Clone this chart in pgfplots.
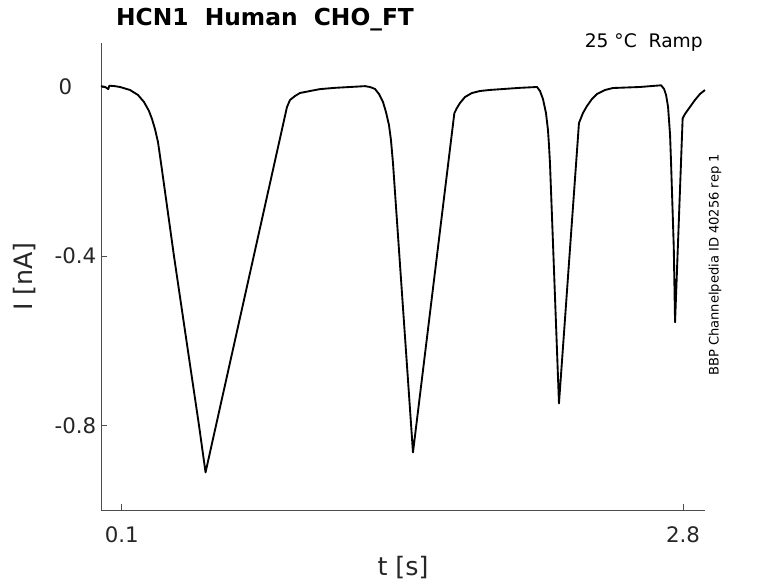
\documentclass[border=0pt]{standalone}
\usepackage{fontspec}
\setmainfont{DejaVu Sans}
\usepackage{pgfplots}
\pgfplotsset{compat=1.18}
\pgfplotstableread{
x y
0.000 0.002
0.020 0.000
0.035 -0.005
0.040 0.003
0.067 0.002
0.0914 0.000
0.1395 -0.0071
0.1780 -0.0189
0.2069 -0.0355
0.2309 -0.0568
0.2454 -0.0757
0.2598 -0.0994
0.2742 -0.1302
0.2935 -0.1964
0.3512 -0.4000
0.4109 -0.5988
0.4715 -0.8000
0.5030 -0.9110
0.8948 -0.0473
0.9093 -0.0308
0.9333 -0.0213
0.9574 -0.0142
1.0055 -0.0095
1.0540 -0.0050
1.1260 -0.0020
1.1980 0.0000
1.2700 0.0020
1.2941 0.0000
1.3182 -0.0047
1.3374 -0.0166
1.3567 -0.0355
1.3711 -0.0592
1.3855 -0.0899
1.3951 -0.1254
1.4048 -0.1799
1.4384 -0.4189
1.4721 -0.6580
1.5010 -0.8639
1.7000 -0.0620
1.7120 -0.0500
1.7271 -0.0379
1.7512 -0.0237
1.7848 -0.0142
1.8233 -0.0095
1.8710 -0.0070
2.0160 -0.0020
2.0976 0.0000
2.1120 -0.0095
2.1264 -0.0284
2.1409 -0.0615
2.1505 -0.1018
2.1553 -0.1373
2.1601 -0.1799
2.1746 -0.3692
2.1890 -0.5586
2.2034 -0.7479
2.2996 -0.0852
2.3189 -0.0615
2.3381 -0.0450
2.3622 -0.0284
2.3862 -0.0166
2.4247 -0.0071
2.4632 -0.0024
2.5930 0.0000
2.6947 0.0040
2.7091 -0.0047
2.7187 -0.0189
2.7283 -0.0473
2.7379 -0.1136
2.7427 -0.1799
2.7557 -0.3787
2.7619 -0.5562
2.7984 -0.0741
2.8095 -0.0639
2.8335 -0.0473
2.8576 -0.0308
2.8817 -0.0166
2.9057 -0.0071
}\trace
\begin{document}
\begin{tikzpicture}
\path[use as bounding box] (0pt,0pt) rectangle (583.5pt,437.25pt);
\begin{axis}[
  at={(75.75pt,54.75pt)}, anchor=south west,
  scale only axis, width=453pt, height=350.25pt,
  xmin=0, xmax=2.906, ymin=-1.0, ymax=0.104,
  axis lines=left, axis line style={-, black!70, line width=0.6pt},
  tick align=inside, major tick length=4.5pt,
  tick style={black!70, line width=0.6pt},
  xtick={0.1,2.8}, xticklabels={0.1,2.8},
  ytick={-0.8,-0.4,0}, yticklabels={-0.8,-0.4,0\hspace*{18pt}},
  tick label style={font=\fontsize{16}{19}\selectfont, text=black!85},
  xticklabel style={yshift=-9pt},
  /pgf/number format/assume math mode=true,
  clip=false,
]
\addplot[black, line width=1.4pt, line join=round] table[x=x,y=y] {\trace};
\end{axis}
\node[anchor=base, font=\bfseries\fontsize{17.5}{21}\selectfont] at (198.75pt,417.75pt) {HCN1\ \ Human\ \ CHO\_FT};
\node[anchor=base east, inner sep=0pt, font=\fontsize{14}{17}\selectfont] at (527.25pt,401.6pt) {25 °C\ \ Ramp};
\node[rotate=90, inner sep=0pt, font=\fontsize{9.8}{12}\selectfont] at (536.25pt,238.5pt) {BBP Channelpedia ID 40256 rep 1};
\node[rotate=90, inner sep=0pt, font=\fontsize{19}{23}\selectfont, text=black!85] at (18.75pt,229.9pt) {I [nA]};
\node[inner sep=0pt, font=\fontsize{19}{23}\selectfont, text=black!85] at (302.25pt,11.25pt) {t [s]};
\end{tikzpicture}
\end{document}
